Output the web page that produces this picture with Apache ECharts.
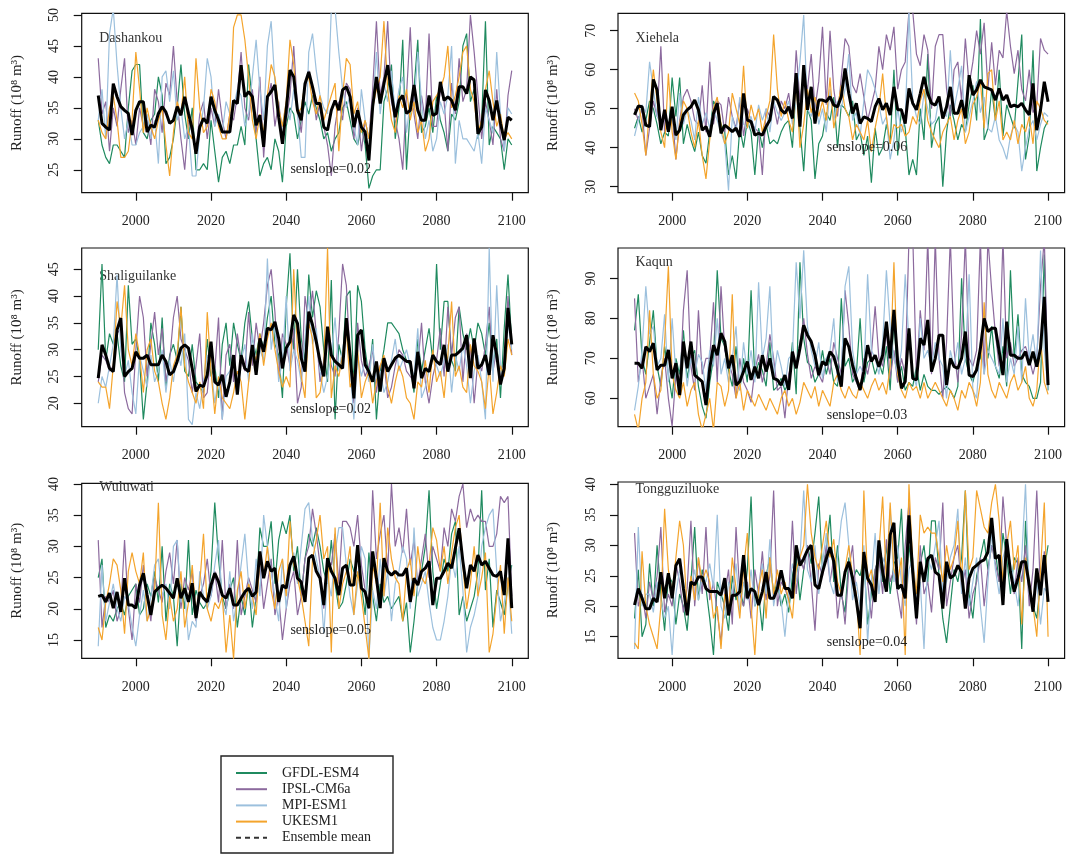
<!DOCTYPE html>
<html><head><meta charset="utf-8">
<script src="https://cdn.jsdelivr.net/npm/echarts@6/dist/echarts.min.js"></script>
<style>html,body{margin:0;padding:0;background:#fff}#c{width:1072px;height:861px}</style>
</head><body><div id="c"></div>
<script>
// ---------- DATA ----------
const years = Array.from({length: 111}, (_, i) => 1990 + i);
const models = ['GFDL-ESM4', 'IPSL-CM6a', 'MPI-ESM1', 'UKESM1', 'Ensemble mean'];
const stations = ['Dashankou', 'Xiehela', 'Shaliguilanke', 'Kaqun', 'Wuluwati', 'Tongguziluoke'];
const sensSlopes = ['0.02', '0.06', '0.02', '0.03', '0.05', '0.04'];
const xTicks = [2000, 2020, 2040, 2060, 2080, 2100];
const yTicksDashankou = [25, 30, 35, 40, 45, 50];
const yTicksXiehela = [30, 40, 50, 60, 70];
const yTicksShaliguilanke = [20, 25, 30, 35, 40, 45];
const yTicksKaqun = [60, 70, 80, 90];
const yTicksWuluwati = [15, 20, 25, 30, 35, 40];
const yTicksTongguziluoke = [15, 20, 25, 30, 35, 40];

// Dashankou
const dashankouGFDL = [33,29,27,26,29,29,28,27,35,41, 42,42,31,30,33,34,40,37,26,27, 30,35,42,34,30,35,25,25,26,25, 33,28,23,27,28,26,29,29,32,29, 42,36,30,24,26,27,25,30,28,23, 32,35,34,30,33,36,34,37,35,33, 30,31,28,30,31,35,36,33,30,29, 32,29,22,24,25,25,36,38,42,30, 35,46,25,35,38,46,31,32,35,31, 37,33,31,28,34,33,36,45,47,36, 38,30,33,49,29,32,31,30,25,30, 29];
const dashankouIPSL = [43,34,36,28,35,32,38,43,31,33, 29,35,32,33,29,38,36,31,39,37, 45,36,30,25,33,31,28,34,36,30, 35,32,38,33,30,34,33,37,44,35, 33,38,31,40,27,36,39,32,36,30, 33,37,45,35,31,38,41,38,33,36, 32,29,24,32,36,33,39,38,30,35, 28,33,30,38,49,37,40,49,36,33, 30,25,37,48,34,30,37,33,47,32, 32,38,36,28,39,34,43,36,38,50, 44,37,30,36,33,29,38,30,28,37, 41];
const dashankouMPI = [33,38,30,47,51,42,35,30,33,29, 29,31,32,34,30,33,26,40,41,36, 41,33,35,30,32,24,24,31,35,43, 40,32,34,31,36,34,35,38,37,32, 34,40,46,38,33,45,49,39,35,32, 36,33,38,34,27,27,44,47,41,37, 35,34,51,51,44,38,35,37,32,29, 38,33,30,35,44,34,39,36,41,34, 38,40,31,36,35,44,36,30,33,28, 30,36,34,37,45,26,33,30,30,29, 28,31,26,35,33,31,44,34,28,35, 34];
const dashankouUKESM = [33,31,30,35,37,33,27,27,28,33, 44,38,31,35,32,30,33,35,29,24, 31,36,34,40,31,30,43,35,31,32, 38,36,32,30,30,34,48,50,50,46, 40,33,30,34,31,37,42,40,35,32, 36,46,42,34,35,39,40,36,34,37, 33,35,37,39,28,37,43,42,34,36, 31,33,30,35,38,40,49,38,33,31, 37,35,38,33,36,31,33,28,30,36, 37,38,40,45,35,37,40,44,45,38, 36,31,33,38,41,36,32,34,30,31, 30];
const dashankouMean = [37.0,32.5,31.9,31.4,38.9,36.8,35.2,34.6,34.1,30.6, 34.6,36.0,36.0,31.1,32.2,31.9,34.1,35.2,34.3,32.5, 33.0,35.2,33.8,36.8,34.1,31.6,27.6,31.9,33.3,32.5, 36.8,34.6,33.0,31.1,31.1,31.1,36.2,35.7,41.9,36.8, 37.6,36.8,32.2,33.8,28.7,36.8,37.6,38.7,33.5,29.2, 34.6,41.1,40.0,34.6,33.0,38.9,40.8,38.4,35.7,35.7, 31.9,31.4,34.6,36.2,34.6,37.9,38.4,36.8,31.9,34.6, 31.9,31.1,26.5,35.2,40.0,35.7,38.9,41.9,37.3,33.5, 36.2,37.0,34.1,34.6,38.7,34.6,33.0,33.0,37.0,33.8, 34.1,39.2,36.2,36.8,36.2,34.6,38.4,38.4,37.3,40.0, 39.5,30.8,31.9,37.9,36.2,33.0,36.2,32.5,29.8,33.5, 33.0];

// Xiehela
const xiehelaGFDL = [45,48,44,47,52,50,46,41,44,43, 58,48,58,41,46,42,39,44,38,36, 44,52,50,46,44,33,38,32,45,40, 47,44,33,45,40,46,41,42,41,44, 46,47,40,56,45,34,50,47,32,41, 43,49,47,53,40,51,50,48,52,42, 44,38,43,31,45,38,40,46,41,60, 38,50,45,33,37,33,50,42,64,40, 46,48,30,44,51,47,42,46,44,51, 56,47,73,42,45,55,47,60,43,51, 48,45,57,69,37,43,65,34,40,45, 47];
const xiehelaIPSL = [50,47,50,38,45,52,48,66,44,46, 49,37,47,53,55,52,47,46,56,44, 62,46,52,51,44,53,48,45,52,43, 50,47,45,44,33,50,48,51,46,52, 50,54,47,65,52,59,55,64,50,57, 71,51,70,55,48,58,68,66,56,54, 59,53,47,51,55,66,60,69,65,71, 55,60,62,75,75,64,61,69,65,50, 66,69,69,55,48,60,62,52,68,56, 62,70,64,72,55,67,56,65,63,75, 66,59,65,55,52,60,49,51,68,65, 64];
const xiehelaMPI = [43,47,51,49,62,55,48,46,49,44, 48,42,54,46,50,47,42,53,46,49, 45,50,47,44,41,29,48,44,53,46, 45,48,44,51,47,50,44,52,49,47, 49,52,46,53,62,74,50,48,53,46, 50,44,55,47,52,50,55,64,47,49, 43,52,60,58,55,51,46,48,37,42, 50,44,47,75,52,48,46,54,50,46, 47,53,49,48,65,50,55,61,44,48, 52,57,49,53,45,44,48,42,40,37, 43,46,44,34,40,45,47,42,46,49, 48];
const xiehelaUKESM = [54,52,46,38,50,60,52,44,40,59, 44,37,46,52,50,44,40,47,38,32, 42,50,53,46,41,44,54,50,46,61, 45,51,47,50,44,48,52,69,55,48, 52,47,44,57,40,46,55,49,53,48, 52,47,58,45,50,56,50,48,42,46, 44,42,47,39,45,50,59,48,41,46, 45,46,43,44,48,46,52,55,47,44, 42,40,44,46,48,42,47,50,41,44, 51,53,57,45,59,60,47,52,42,44, 42,47,41,46,44,48,41,52,50,47, 46];
const xiehelaMean = [48.4,50.7,50.5,45.8,45.4,57.5,54.8,44.5,49.7,44.1, 50.5,43.2,44.5,48.4,49.7,50.5,52.2,49.7,44.5,45.4, 42.8,48.8,51.4,43.7,45.8,45.0,44.1,45.0,42.8,53.9, 47.1,46.7,43.2,43.7,43.2,45.4,47.1,53.1,52.2,49.7, 48.8,50.5,47.5,59.1,45.4,61.2,49.7,55.6,46.2,52.2, 52.2,51.8,53.1,50.9,50.5,53.1,60.3,53.9,48.8,51.4, 46.2,47.9,47.5,46.7,50.5,52.6,49.7,51.4,48.4,55.6, 49.7,49.7,46.2,55.2,51.4,49.7,53.9,58.2,53.9,51.4, 50.9,53.1,47.5,50.5,55.6,48.8,48.8,52.2,47.5,58.6, 53.5,54.8,57.4,55.6,55.2,54.8,52.2,55.2,52.2,53.5, 50.5,50.9,50.5,51.4,49.7,48.4,56.5,44.5,49.7,56.9, 51.8];

// Shaliguilanke
const shaliGFDL = [30,46,28,33,31,33,27,24,42,31, 32,28,17,24,35,31,24,36,23,29, 31,28,38,26,25,31,24,23,22,32, 25,27,21,31,35,27,35,31,28,35, 39,32,29,33,30,36,40,31,29,21, 38,48,30,45,32,28,44,36,41,38, 30,24,43,17,31,28,40,41,23,42, 39,30,25,32,17,26,30,35,35,34, 33,30,28,27,22,32,26,30,34,28, 46,30,39,39,28,26,38,33,30,34, 30,35,33,29,35,27,32,21,34,44, 31];
const shaliIPSL = [24,29,28,26,27,33,34,22,19,18, 30,40,36,25,31,37,29,34,24,28, 36,40,32,30,28,22,27,33,21,22, 30,26,36,17,29,31,24,33,28,26, 37,27,35,30,35,42,45,37,25,33, 31,27,34,20,23,40,35,41,33,24, 28,32,27,25,33,46,42,28,20,35, 28,25,27,30,22,27,28,21,23,27, 30,29,26,25,24,27,35,24,20,25, 28,34,25,38,29,36,38,24,33,30, 20,28,26,31,38,26,30,24,28,40, 29];
const shaliMPI = [20,25,23,27,31,44,30,25,28,22, 18,29,26,23,29,24,26,30,22,28, 24,30,27,33,17,16,22,19,24,29, 27,20,25,17,25,26,29,22,28,31, 24,33,27,30,28,47,30,35,24,28, 40,26,30,28,24,32,40,31,34,26, 22,25,29,36,26,30,34,27,17,29, 25,28,24,31,24,26,22,24,28,32, 26,28,30,27,25,34,21,23,26,29, 27,25,28,31,22,29,26,31,27,20, 26,29,24,17,49,24,42,27,26,35, 30];
const shaliUKESM = [24,23,23,19,27,39,34,42,30,27, 33,29,22,30,32,26,24,20,17,21, 27,29,38,27,24,22,20,24,19,37, 26,18,25,21,20,19,22,26,24,17, 24,30,28,33,27,32,35,30,26,23, 25,23,45,30,25,21,35,32,21,22, 27,49,21,27,25,29,34,23,25,30, 21,24,26,20,24,27,29,23,20,24, 27,25,21,20,17,24,23,28,22,30, 24,26,21,29,39,25,27,23,22,31, 27,26,24,19,27,18,22,27,25,32, 29];
const shaliMean = [24.7,30.9,29.0,26.5,25.9,33.7,35.9,25.0,25.9,26.5, 29.6,28.4,28.4,29.0,27.2,27.2,27.2,29.0,27.8,25.3, 25.9,27.8,30.3,30.9,30.3,26.5,22.2,23.4,23.1,25.3, 31.5,24.0,23.4,25.3,21.2,24.0,29.0,21.6,29.0,26.5, 25.9,30.9,25.3,32.1,29.6,34.0,33.7,35.2,32.1,26.5, 30.3,31.5,36.5,34.9,28.4,25.9,37.1,34.6,31.5,27.8, 25.0,34.3,29.0,27.8,27.2,26.5,35.9,29.0,20.9,32.7, 33.7,27.2,25.9,24.0,27.8,22.2,28.4,25.9,27.2,28.4, 29.0,28.4,27.8,27.8,22.8,29.6,24.7,26.5,25.9,29.0, 27.8,27.2,30.9,25.9,29.0,29.0,29.6,30.3,32.7,24.7, 32.1,26.5,27.2,29.0,25.3,32.7,29.0,23.5,26.5,37.8, 31.0];

// Kaqun
const kaqunGFDL = [77,86,70,66,74,82,68,63,73,66, 60,70,66,77,65,70,72,63,58,55, 64,70,92,75,73,67,63,73,62,70, 64,87,65,69,67,63,74,62,63,65, 62,64,74,61,94,75,69,68,64,66, 72,66,70,64,63,85,68,70,64,66, 80,64,69,70,66,69,66,73,62,80, 64,68,62,64,63,68,62,66,63,62, 62,61,62,63,62,60,63,90,70,66, 64,68,70,81,70,78,68,65,73,63, 92,70,81,66,64,63,60,60,64,96, 62];
const kaqunIPSL = [85,64,70,60,63,66,56,65,70,60, 53,66,62,82,92,68,62,82,66,70, 70,84,64,88,72,69,66,60,70,64, 62,59,67,71,64,68,76,70,62,63, 55,66,70,68,74,80,71,65,68,66, 64,70,66,74,70,66,87,78,66,64, 62,70,66,71,83,70,68,77,65,72, 64,70,66,100,101,65,82,72,100,66, 100,70,60,74,100,72,64,76,100,70, 68,72,100,66,100,87,76,68,100,70, 74,68,70,72,73,70,66,70,88,100, 64];
const kaqunMPI = [57,63,72,88,76,78,68,70,81,64, 80,66,62,74,63,70,66,71,69,62, 72,68,80,66,70,64,70,78,62,74, 66,72,64,89,70,75,88,65,72,68, 63,70,71,94,80,97,78,72,68,74, 65,70,72,80,64,66,88,93,72,66, 68,66,91,72,70,66,74,92,78,70, 66,72,91,74,66,63,80,70,72,68, 74,70,68,60,72,68,74,66,70,91, 62,60,74,66,72,70,68,66,80,64, 70,66,78,64,85,70,76,68,97,72, 62];
const kaqunUKESM = [56,52,60,64,82,66,60,62,74,93, 66,62,60,64,58,62,64,56,52,56, 60,52,64,63,58,62,86,60,64,57, 62,60,58,61,59,57,60,58,56,60, 62,58,60,56,59,64,62,60,63,58, 62,60,58,64,66,62,60,63,61,60, 64,62,60,63,65,62,64,61,68,94, 66,62,60,64,62,63,60,64,60,62, 64,62,60,58,62,60,57,62,60,64, 62,58,64,84,66,62,60,64,62,60, 64,66,62,64,68,60,58,62,75,64, 61];
const kaqunMean = [68.8,68.8,67.5,72.9,71.7,73.8,67.1,68.3,68.3,72.1, 65.0,68.8,60.8,74.2,67.5,74.2,65.8,65.0,64.2,58.3, 67.5,73.3,70.8,76.3,74.2,67.5,70.8,63.3,64.2,66.7, 69.2,64.6,67.9,65.0,70.8,66.7,70.0,65.0,64.6,63.3, 65.8,62.1,71.7,67.5,72.5,78.3,75.8,74.2,70.8,65.8, 69.2,68.3,71.7,70.4,67.1,62.9,75.0,72.9,68.3,65.0, 62.1,66.7,73.3,69.2,70.8,67.9,70.8,79.2,70.0,82.1, 69.2,62.5,64.2,77.5,65.0,64.6,75.0,73.3,79.6,66.7, 70.0,75.8,75.8,63.3,70.0,67.9,67.5,70.0,76.7,65.8, 65.4,67.1,72.5,80.0,76.7,77.5,77.5,71.7,65.8,79.2, 70.8,70.8,70.0,70.0,71.7,68.3,71.7,67.9,72.5,85.4, 63.3];

// Wuluwati
const wuluGFDL = [25,28,17,19,18,20,21,19,22,23, 24,19,20,24,22,26,21,30,18,24, 22,14,24,20,31,19,23,21,20,21, 26,37,28,22,20,23,25,17,22,19, 24,17,22,33,30,30,34,24,31,34, 32,35,26,30,22,28,32,30,33,30, 26,24,31,24,20,21,24,28,26,25, 24,19,29,22,18,24,21,22,20,21, 22,18,21,13,18,24,26,30,39,26, 20,24,28,26,32,34,19,22,18,20, 22,26,39,23,28,17,23,21,19,24, 27];
const wuluIPSL = [31,17,22,21,23,18,20,31,20,15, 24,21,27,22,18,25,23,21,26,29, 24,31,20,25,23,26,18,22,24,28, 22,26,21,31,20,24,20,31,19,22, 25,23,21,27,20,24,28,19,22,15, 20,24,26,19,22,28,30,36,32,27, 20,28,27,32,24,34,34,33,30,35, 27,23,20,39,28,32,35,26,40,30, 33,29,36,27,31,24,28,32,25,30, 28,26,33,30,36,34,38,40,33,36, 34,35,34,34,30,30,32,38,37,38, 22];
const wuluMPI = [14,27,18,21,24,20,18,22,21,17, 14,19,23,18,22,27,28,22,24,20, 30,31,21,23,15,18,17,26,22,20, 22,27,31,21,19,26,18,22,27,32, 24,20,28,22,35,30,26,22,18,28, 20,26,29,24,30,36,37,31,28,25, 16,25,22,29,33,33,27,22,19,24, 30,28,12,23,20,28,22,26,18,24, 26,30,28,20,33,22,24,26,21,17, 15,15,18,22,28,25,30,23,13,17, 19,22,30,33,35,36,26,18,21,25, 16];
const wuluUKESM = [17,15,21,24,28,27,23,16,26,29, 26,24,29,18,20,23,37,19,15,22, 18,20,26,17,21,27,19,24,32,20, 18,21,20,22,13,19,12,23,26,20, 24,22,19,28,25,30,23,20,26,28, 22,34,27,25,22,18,14,28,31,35, 28,30,13,33,20,24,26,30,19,26, 22,17,12,27,24,37,22,33,28,25, 24,18,26,28,22,30,25,24,27,33, 31,26,30,24,29,33,35,27,20,24, 30,22,25,29,13,16,22,27,16,25, 18];
const wuluMean = [22.0,22.2,21.1,22.5,20.1,22.7,19.5,24.9,20.6,20.6, 20.1,23.8,25.7,22.2,19.0,22.7,23.3,23.8,23.3,22.5, 21.7,24.9,21.7,23.3,21.1,24.1,18.5,22.7,21.7,21.1, 23.8,25.7,24.3,22.2,21.7,23.3,20.6,20.6,21.7,22.7, 23.3,22.0,22.7,29.2,24.9,27.6,26.0,26.5,21.1,23.8, 23.3,27.0,28.4,24.9,24.3,21.1,28.1,28.6,26.0,24.9, 20.6,28.1,26.0,24.9,22.2,26.5,27.0,23.8,23.8,30.2, 23.3,22.7,20.1,29.2,24.9,20.1,28.1,26.0,25.4,26.0, 25.4,25.4,26.5,21.1,24.9,23.8,26.0,26.5,27.6,20.6, 24.9,24.9,26.0,27.3,26.5,29.7,32.9,27.6,23.3,27.0, 26.0,28.6,27.0,27.6,26.5,25.4,25.2,26.0,22.2,31.3, 20.1];

// Tongguziluoke
const tongGFDL = [18,26,15,17,27,20,30,22,16,25, 24,17,22,20,16,24,33,21,26,23, 18,12,24,22,20,16,25,21,23,20, 26,38,20,22,16,25,28,22,24,20, 22,19,25,28,21,26,30,27,32,38, 26,29,35,24,30,22,19,28,24,26, 25,28,17,22,26,28,24,30,22,27, 28,36,22,30,25,22,27,30,24,34, 34,25,18,14,20,26,24,28,39,22, 18,25,28,31,26,30,29,24,32,28, 22,28,27,13,34,22,20,18,24,26, 30];
const tongIPSL = [32,20,22,18,24,21,25,33,19,22, 20,27,24,19,23,34,20,28,22,33, 21,24,19,14,22,26,17,33,22,20, 24,18,26,22,29,21,25,39,20,24, 23,21,34,22,28,26,30,24,16,27, 25,30,24,28,18,23,17,26,30,21, 18,29,24,18,26,28,22,31,24,26, 22,18,30,37,26,17,30,22,24,19, 28,26,37,20,24,28,30,23,26,18, 22,24,28,20,26,30,27,24,38,30, 26,22,28,24,30,20,26,39,22,29, 21];
const tongMPI = [13,33,20,22,22,19,24,21,18,20, 12,22,26,24,20,23,26,21,25,24, 27,23,35,20,18,24,22,27,19,24, 21,26,20,23,27,22,31,20,24,21, 15,22,27,24,28,39,26,24,30,22, 27,32,24,22,28,34,37,30,21,24, 20,30,14,24,32,22,28,26,36,24, 30,24,20,26,28,22,24,13,28,26, 30,34,22,24,28,30,36,22,28,20, 24,28,20,14,24,32,26,22,28,30, 27,24,20,28,40,22,20,24,17,23, 22];
const tongUKESM = [14,13,29,20,17,15,13,20,36,26, 22,28,34,30,19,25,21,28,24,26, 24,18,20,13,22,19,28,23,18,26, 32,20,12,23,26,18,28,22,26,22, 24,21,18,26,28,30,40,32,28,26, 30,34,28,31,24,22,26,30,25,22, 12,39,24,26,22,29,38,24,37,26, 24,28,12,40,27,22,35,32,33,32, 32,28,24,30,26,28,34,24,39,26, 28,39,36,33,32,37,40,34,24,30, 34,26,30,17,28,24,20,15,26,37, 15];
const tongMean = [20.2,22.9,21.3,19.6,19.6,21.3,20.7,25.6,21.3,25.4, 21.3,26.7,27.8,22.9,18.5,24.0,23.5,24.8,24.8,22.9, 22.4,22.4,22.4,21.8,24.6,18.5,21.8,21.8,22.4,28.4, 21.3,22.9,22.4,20.2,22.4,25.6,21.3,21.3,22.9,25.9, 22.9,22.9,21.3,30.0,26.7,27.8,29.2,30.0,23.5,22.9, 25.6,27.8,29.7,27.3,21.8,21.8,25.6,27.3,24.6,21.0, 16.4,28.9,24.6,23.5,20.7,30.8,25.6,22.4,31.7,33.7, 22.9,23.5,21.3,34.9,25.6,18.0,27.3,24.0,27.8,28.4, 25.6,25.1,19.6,27.3,24.6,25.1,26.7,25.6,19.6,24.6, 26.2,26.7,27.3,27.6,28.9,34.5,27.8,28.4,20.2,31.0, 25.6,22.4,24.6,27.3,27.3,23.5,19.1,26.2,21.8,28.4, 20.7];

const panelData = [
  [dashankouGFDL, dashankouIPSL, dashankouMPI, dashankouUKESM, dashankouMean],
  [xiehelaGFDL, xiehelaIPSL, xiehelaMPI, xiehelaUKESM, xiehelaMean],
  [shaliGFDL, shaliIPSL, shaliMPI, shaliUKESM, shaliMean],
  [kaqunGFDL, kaqunIPSL, kaqunMPI, kaqunUKESM, kaqunMean],
  [wuluGFDL, wuluIPSL, wuluMPI, wuluUKESM, wuluMean],
  [tongGFDL, tongIPSL, tongMPI, tongUKESM, tongMean]
];
const panelYTicks = [yTicksDashankou, yTicksXiehela, yTicksShaliguilanke, yTicksKaqun, yTicksWuluwati, yTicksTongguziluoke];

// ---------- LAYOUT / STYLE ----------
const FONT = '"Liberation Serif", "Times New Roman", "DejaVu Serif", serif';
const colors = ['#1f8a5f', '#8c6a9e', '#9cc0dd', '#f4a42c', '#000000'];
const widths = [1.2, 1.2, 1.2, 1.2, 3];
const layout = [
  {left: 81.7, top: 13.3, height: 179.4, ymin: 21.3, ymax: 50.27, titleY: 39, senY: 169},
  {left: 618, top: 13.3, height: 179.4, ymin: 28.46, ymax: 74.46, titleY: 39, senY: 147},
  {left: 81.7, top: 248, height: 178.7, ymin: 15.63, ymax: 48.97, titleY: 277, senY: 409},
  {left: 618, top: 248, height: 178.7, ymin: 52.9, ymax: 97.6, titleY: 263, senY: 415},
  {left: 81.7, top: 483.3, height: 175, ymin: 12.07, ymax: 40.1, titleY: 488, senY: 630},
  {left: 618, top: 482, height: 176.3, ymin: 11.46, ymax: 40.38, titleY: 490, senY: 642}
];
const W = 446.6;
const XMIN = 1985.6, XMAX = 2104.4;

const grids = [], xAxes = [], yAxes = [], series = [], graphics = [];
layout.forEach((L, p) => {
  grids.push({left: L.left, top: L.top, width: W, height: L.height, show: true,
    borderColor: '#111', borderWidth: 1.2, backgroundColor: 'transparent', containLabel: false});
  xAxes.push({type: 'value', gridIndex: p, min: XMIN, max: XMAX,
    axisLine: {show: false}, splitLine: {show: false},
    axisTick: {show: true, length: 8, customValues: xTicks, lineStyle: {color: '#111', width: 1.2}},
    axisLabel: {customValues: xTicks, margin: 22, fontFamily: FONT, fontSize: 14, color: '#222',
      formatter: v => String(v)}});
  yAxes.push({type: 'value', gridIndex: p, min: L.ymin, max: L.ymax,
    axisLine: {show: false}, splitLine: {show: false},
    axisTick: {show: true, length: 8, customValues: panelYTicks[p], lineStyle: {color: '#111', width: 1.2}},
    axisLabel: {customValues: panelYTicks[p], rotate: 90, margin: 20, fontFamily: FONT, fontSize: 14, color: '#222',
      formatter: v => String(v)}});
  panelData[p].forEach((vals, m) => {
    series.push({type: 'line', name: models[m], xAxisIndex: p, yAxisIndex: p,
      data: years.map((yr, i) => [yr, vals[i]]), symbol: 'none', silent: true,
      lineStyle: {color: colors[m], width: widths[m]}, itemStyle: {color: colors[m]},
      z: 2 + m, clip: true});
  });
  graphics.push({type: 'text', left: L.left + 17.5, top: L.titleY - 8,
    style: {text: stations[p], font: '14px ' + FONT, fill: '#333'}});
  graphics.push({type: 'text', x: L.left + 249, y: L.senY, z: 100,
    style: {text: 'senslope=' + sensSlopes[p], font: '14px ' + FONT, fill: '#222',
      textAlign: 'center', textVerticalAlign: 'middle'}});
  graphics.push({type: 'text', x: L.left - 64.5, y: L.top + L.height / 2, rotation: Math.PI / 2,
    style: {text: 'Runoff (10⁸ m³)', font: '15px ' + FONT, fill: '#222',
      textAlign: 'center', textVerticalAlign: 'middle'}});
});

// legend drawn as a box with line samples
const LG = {x: 221, y: 756, w: 172, h: 97, lineX1: 236, lineX2: 267, textX: 282, rowY0: 773, rowGap: 16.2};
graphics.push({type: 'rect', shape: {x: LG.x, y: LG.y, width: LG.w, height: LG.h},
  style: {fill: '#fff', stroke: '#222', lineWidth: 1.4}, z: 50});
models.forEach((name, m) => {
  const yy = LG.rowY0 + m * LG.rowGap;
  graphics.push({type: 'line', z: 51, shape: {x1: LG.lineX1, y1: yy, x2: LG.lineX2, y2: yy},
    style: m === 4 ? {stroke: '#333', lineWidth: 2, lineDash: [5, 4]} : {stroke: colors[m], lineWidth: 2}});
  graphics.push({type: 'text', z: 51, x: LG.textX, y: yy,
    style: {text: name, font: '14px ' + FONT, fill: '#222', textVerticalAlign: 'middle'}});
});

const chart = echarts.init(document.getElementById('c'), null, {renderer: 'canvas'});
chart.setOption({
  animation: false,
  backgroundColor: '#fff',
  grid: grids, xAxis: xAxes, yAxis: yAxes, series: series,
  graphic: graphics
});
</script></body></html>
